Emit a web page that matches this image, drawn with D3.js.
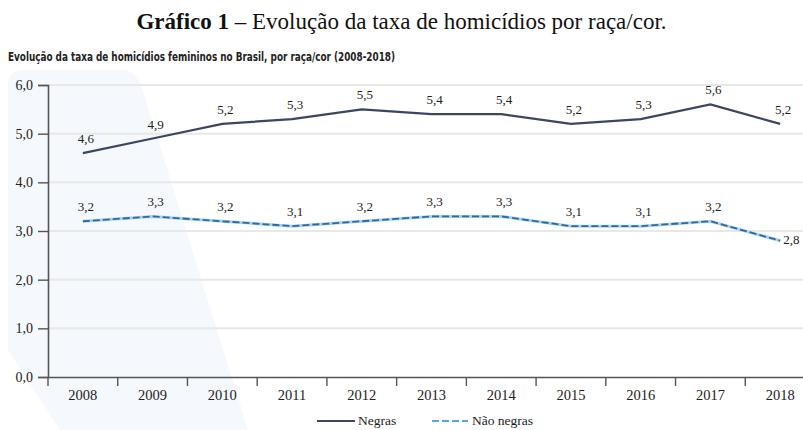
<!DOCTYPE html>
<html>
<head>
<meta charset="utf-8">
<script src="https://cdn.jsdelivr.net/npm/d3@7"></script>
<style>
  body { margin: 0; background: #fff; }
  svg { display: block; }
</style>
</head>
<body>
<div id="chart"></div>
<script>
// data
const years = ["2008","2009","2010","2011","2012","2013","2014","2015","2016","2017","2018"];
const negras = [4.6, 4.9, 5.2, 5.3, 5.5, 5.4, 5.4, 5.2, 5.3, 5.6, 5.2];
const naoNegras = [3.2, 3.3, 3.2, 3.1, 3.2, 3.3, 3.3, 3.1, 3.1, 3.2, 2.8];
const yTicks = [0, 1, 2, 3, 4, 5, 6];
const seriesNames = ["Negras", "Não negras"];

const W = 803, H = 430;
const serif = "'Liberation Serif', 'DejaVu Serif', serif";

let svg = d3.select("#chart").append("svg")
    .attr("width", W)
    .attr("height", H);

// faint blue band in the background
svg.append("path")
    .attr("d", "M8,84 Q8,70 24,70 L122,70 Q136,70 142,88 L248,430 L60,430 L8,350 Z")
    .attr("fill", "#f5f8fc");

// titles
svg.append("text")
    .attr("x", W / 2)
    .attr("y", 29)
    .attr("text-anchor", "middle")
    .attr("font-family", serif)
    .attr("font-size", 23)
    .attr("fill", "#111")
    .html("<tspan font-weight='bold'>Gráfico 1</tspan> – Evolução da taxa de homicídios por raça/cor.");

svg.append("text")
    .attr("x", 8)
    .attr("y", 61)
    .attr("font-family", "'Liberation Sans Narrow', 'DejaVu Sans Condensed', sans-serif")
    .attr("font-weight", "bold")
    .attr("font-size", 13)
    .attr("fill", "#222")
    .attr("textLength", 387)
    .attr("lengthAdjust", "spacingAndGlyphs")
    .text("Evolução da taxa de homicídios femininos no Brasil, por raça/cor (2008-2018)");

// scales
let x = d3.scaleBand().domain(years).range([48, 815]).padding(0);
let y = d3.scaleLinear().domain([0, 6]).range([377, 85]);
let cx = d => x(d) + x.bandwidth() / 2;

// grid
svg.append("g").selectAll("line")
    .data(yTicks.filter(d => d > 0))
    .join("line")
    .attr("x1", 48).attr("x2", W)
    .attr("y1", d => y(d)).attr("y2", d => y(d))
    .attr("stroke", "#e8e8e8")
    .attr("stroke-width", 2);

// y axis
let yAxis = svg.append("g")
    .attr("transform", "translate(48,0)")
    .call(d3.axisLeft(y).tickValues(yTicks).tickSize(10).tickPadding(5)
        .tickFormat(d => d.toFixed(1).replace(".", ",")));
yAxis.select(".domain").attr("stroke", "#555").attr("stroke-width", 1.6);
yAxis.selectAll(".tick line").attr("stroke", "#555").attr("stroke-width", 1.4);
yAxis.selectAll("text")
    .attr("font-family", serif).attr("font-size", 14)
    .attr("fill", "#222");

// x axis
let xAxis = svg.append("g")
    .attr("transform", "translate(0,377)")
    .call(d3.axisBottom(x).tickSize(0).tickPadding(13));
xAxis.select(".domain").attr("stroke", "#555").attr("stroke-width", 1.6);
xAxis.selectAll("text")
    .attr("font-family", serif).attr("font-size", 14.5)
    .attr("fill", "#222");
xAxis.selectAll(".sep")
    .data(years)
    .join("line")
    .attr("class", "sep")
    .attr("x1", d => x(d)).attr("x2", d => x(d))
    .attr("y1", 0).attr("y2", 9)
    .attr("stroke", "#555")
    .attr("stroke-width", 1.4);

// lines
let line = d3.line()
    .x((d, i) => cx(years[i]))
    .y(d => y(d));

svg.append("path")
    .datum(naoNegras)
    .attr("d", line)
    .attr("fill", "none")
    .attr("stroke", "#a9d2ee")
    .attr("stroke-width", 3);
svg.append("path")
    .datum(naoNegras)
    .attr("d", line)
    .attr("fill", "none")
    .attr("stroke", "#2f6a9e")
    .attr("stroke-width", 1.8)
    .attr("stroke-dasharray", "7,3");

svg.append("path")
    .datum(negras)
    .attr("d", line)
    .attr("fill", "none")
    .attr("stroke", "#3b4760")
    .attr("stroke-width", 2.2);

// value labels
function labels(values, cls) {
    let last = values.length - 1;
    svg.selectAll("." + cls)
        .data(values)
        .join("text")
        .attr("class", cls)
        .attr("x", (d, i) => cx(years[i]) + 3)
        .attr("y", (d, i) => i == last && cls == "lb2" ? y(d) + 3 : y(d) - 10)
        .attr("text-anchor", (d, i) => i == last && cls == "lb2" ? "start" : "middle")
        .attr("font-family", serif)
        .attr("font-size", 13)
        .attr("fill", "#222")
        .text(d => d.toFixed(1).replace(".", ","));
}
labels(negras, "lb1");
labels(naoNegras, "lb2");

// legend
let lg = svg.append("g").attr("transform", "translate(0,421)");
lg.append("line").attr("x1", 317).attr("x2", 355).attr("y1", 0).attr("y2", 0)
    .attr("stroke", "#3b4760").attr("stroke-width", 2);
lg.append("text").attr("x", 358).attr("y", 4)
    .attr("font-family", serif).attr("font-size", 13.5).attr("fill", "#222")
    .text(seriesNames[0]);
lg.append("line").attr("x1", 432).attr("x2", 468).attr("y1", 0).attr("y2", 0)
    .attr("stroke", "#5aa6dc").attr("stroke-width", 2).attr("stroke-dasharray", "7,3");
lg.append("text").attr("x", 472).attr("y", 4)
    .attr("font-family", serif).attr("font-size", 13.5).attr("fill", "#222")
    .text(seriesNames[1]);
</script>
</body>
</html>
